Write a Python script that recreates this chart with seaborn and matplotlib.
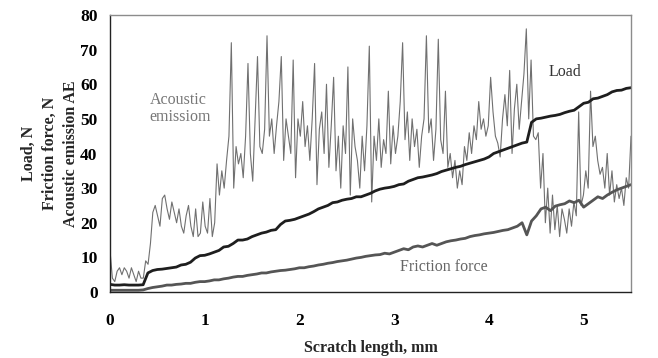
import numpy as np
import pandas as pd
import matplotlib
matplotlib.use("Agg")
import matplotlib.pyplot as plt
import seaborn as sns

# ---- data ----
ae = [
    # 0.000 - 0.35
    12, 4, 3, 6, 7, 5, 7, 6, 4, 7, 5, 3, 6, 4, 4,
    # 0.375 - 1.075
    9, 8, 14, 23, 25, 22, 19, 27, 28, 24, 21, 26, 23, 20, 24, 19, 17, 22, 25, 19,
    16, 24, 16, 17, 26, 19, 17, 27, 16,
    # 1.1 - 2.675
    20, 37, 28, 35, 30, 38, 45, 72, 30, 42, 37, 40, 33, 45, 66, 40, 32, 50, 68, 42,
    40, 47, 74, 45, 50, 40, 48, 55, 68, 38, 50, 45, 40, 67, 33, 50, 45, 55, 42, 48,
    38, 50, 66, 31, 47, 52, 40, 60, 36, 48, 62, 35, 45, 30, 48, 40, 65, 28, 50, 42,
    38, 30, 45, 35,
    # 2.7 - 4.5
    48, 71, 26, 45, 38, 50, 36, 44, 40, 58, 37, 48, 40, 45, 55, 72, 44, 52, 38, 50,
    42, 47, 36, 45, 50, 74, 46, 50, 38, 47, 73, 44, 40, 58, 36, 40, 33, 38, 30, 35,
    31, 42, 38, 46, 40, 48, 44, 55, 47, 50, 45, 48, 62, 52, 45, 43, 39, 50, 57, 48,
    64, 40, 53, 60, 47, 55, 63, 76, 50, 67, 45, 44,
    # 4.525 - 5.5
    46, 30, 40, 20, 30, 17, 28, 18, 25, 16, 24, 21, 17, 24, 19, 26, 22, 52, 25, 28,
    35, 30, 58, 42, 45, 38, 34, 36, 30, 40, 28, 35, 26, 31, 27, 30, 25, 33, 30, 45,
]

load = [
    2.2, 2.0, 2.0, 2.1, 2.0, 2.0, 2.0, 2.1,
    5.5, 6.2, 6.5, 6.6, 6.8, 7.0, 7.2, 7.8, 8.0, 8.6, 9.8, 10.5,
    10.6, 11.0, 11.5, 12.0, 13.0, 13.2, 14.0, 15.0, 15.0, 15.3,
    16.0, 16.5, 17.0, 17.3, 17.8, 18.0, 19.5, 20.5, 20.7, 21.0,
    21.5, 22.0, 22.5, 23.2, 24.0, 24.5, 25.0, 25.8, 26.0, 26.5,
    26.8, 27.0, 27.5, 27.5, 28.0, 28.5, 29.2, 29.7, 30.0, 30.2,
    30.5, 31.0, 31.2, 32.0, 32.5, 33.0, 33.2, 33.5, 33.8, 34.2,
    34.8, 35.2, 35.6, 36.0, 36.3, 36.8, 37.2, 37.6, 38.0, 38.4,
    39.0, 40.0, 40.5, 41.0, 41.5, 42.0, 42.5, 43.0, 43.3, 49.0,
    50.0, 50.2, 50.5, 50.8, 51.0, 51.3, 51.8, 52.2, 52.5, 53.5,
    54.5, 54.8, 55.8, 56.0, 56.5, 57.0, 57.8, 58.2, 58.3, 58.8,
    59.0,
]

friction = [
    0.5, 0.5, 0.5, 0.5, 0.5, 0.5, 0.5, 0.6,
    1.0, 1.3, 1.5, 1.7, 2.0, 2.0, 2.2, 2.3, 2.5, 2.5, 2.8, 3.0,
    3.0, 3.2, 3.5, 3.5, 3.8, 4.0, 4.3, 4.5, 4.5, 4.8,
    5.0, 5.2, 5.5, 5.5, 5.8, 6.0, 6.2, 6.3, 6.5, 6.7,
    7.0, 7.0, 7.3, 7.5, 7.8, 8.0, 8.3, 8.5, 8.8, 9.0,
    9.2, 9.5, 9.8, 10.0, 10.3, 10.5, 10.7, 10.8, 11.2, 11.0,
    11.5, 12.0, 12.5, 12.2, 13.0, 13.3, 13.0, 13.5, 14.0, 13.5,
    14.0, 14.5, 14.8, 15.0, 15.3, 15.5, 16.0, 16.3, 16.5, 16.8,
    17.0, 17.2, 17.5, 17.8, 18.0, 18.5, 19.0, 20.0, 16.5, 20.5,
    22.0, 24.0, 24.5, 23.5, 24.8, 25.2, 25.5, 26.3, 25.8, 26.5,
    24.5, 25.5, 26.5, 27.5, 27.0, 28.0, 28.8, 29.5, 30.0, 30.5,
    31.0,
]

x_max = 5.5
x_ticks = [0, 1, 2, 3, 4, 5]
y_ticks = [0, 10, 20, 30, 40, 50, 60, 70, 80]

df_ae = pd.DataFrame({"x": np.linspace(0, x_max, len(ae)), "y": ae})
df_load = pd.DataFrame({"x": np.linspace(0, x_max, len(load)), "y": load})
df_fr = pd.DataFrame({"x": np.linspace(0, x_max, len(friction)), "y": friction})

# ---- style ----
sns.set_theme(style="white")
plt.rcParams["font.family"] = ["Liberation Serif", "DejaVu Serif"]

fig = plt.figure(figsize=(6.58, 3.58), dpi=100)
ax = fig.add_axes([110 / 658, 1 - 292 / 358, (631 - 110) / 658, (292 - 15) / 358])

sns.lineplot(data=df_ae, x="x", y="y", ax=ax, color="#707070", linewidth=0.8)
sns.lineplot(data=df_fr, x="x", y="y", ax=ax, color="#555555", linewidth=2.0)
sns.lineplot(data=df_load, x="x", y="y", ax=ax, color="#1e1e1e", linewidth=2.0)

ax.set_xlim(0, x_max)
ax.set_ylim(0, 80)
ax.set_xticks(x_ticks)
ax.set_yticks(y_ticks)
ax.tick_params(axis="both", direction="out", length=5, width=1, colors="black",
               labelsize=12.5, pad=4)
ax.tick_params(axis="x", pad=10)
for lab in ax.get_xticklabels() + ax.get_yticklabels():
    lab.set_fontweight("bold")

for side in ["left", "bottom"]:
    ax.spines[side].set_color("#222222")
    ax.spines[side].set_linewidth(1.0)
for side in ["top", "right"]:
    ax.spines[side].set_color("#8c8c8c")
    ax.spines[side].set_linewidth(1.0)

ax.set_xlabel("Scratch length, mm", fontsize=11.5, fontweight="bold", labelpad=8)
ax.set_ylabel("Load, N\nFriction force, N\nAcoustic emission AE", fontsize=11.5,
              fontweight="bold", labelpad=1, linespacing=1.4)

ax.text(0.42, 53, "Acoustic\nemissiom", fontsize=11.5, color="#777777",
        va="center", ha="left", linespacing=1.15)
ax.text(4.63, 63.5, "Load", fontsize=11.5, color="#333333", va="center", ha="left")
ax.text(3.06, 7.2, "Friction force", fontsize=11.5, color="#666666", va="center", ha="left")

fig.savefig("out.png", dpi=100)
